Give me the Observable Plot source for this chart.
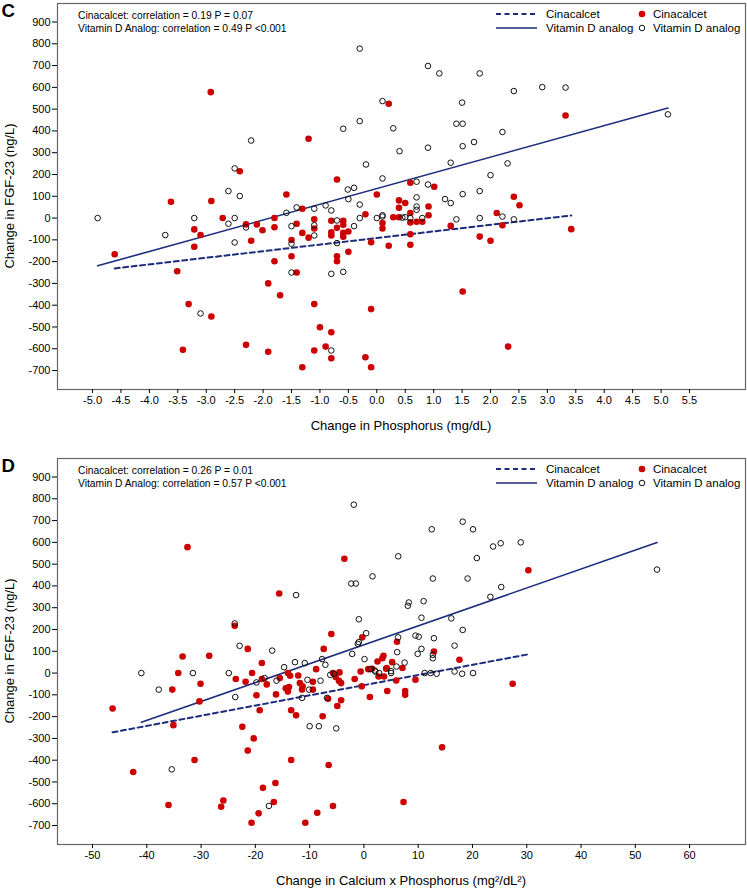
<!DOCTYPE html>
<html><head><meta charset="utf-8">
<script src="https://cdn.jsdelivr.net/npm/d3@7"></script>
<script src="https://cdn.jsdelivr.net/npm/@observablehq/plot@0.6"></script>
<style>
body{margin:0;background:#fff;}
#wrap{position:relative;width:747px;height:890px;overflow:hidden;}
.panel{position:absolute;left:0;}
</style></head><body><div id="wrap"></div>
<script>
// ---------- tick values ----------
const xTicksC = [-5.0,-4.5,-4.0,-3.5,-3.0,-2.5,-2.0,-1.5,-1.0,-0.5,0.0,0.5,1.0,1.5,2.0,2.5,3.0,3.5,4.0,4.5,5.0,5.5];
const xTicksD = [-50,-40,-30,-20,-10,0,10,20,30,40,50,60];
const yTicks = [-700,-600,-500,-400,-300,-200,-100,0,100,200,300,400,500,600,700,800,900];

// ---------- labels ----------
const seriesNames = ["Cinacalcet", "Vitamin D analog"];
const annC = ["Cinacalcet: correlation = 0.19 P = 0.07", "Vitamin D Analog: correlation = 0.49 P <0.001"];
const annD = ["Cinacalcet: correlation = 0.26 P = 0.01", "Vitamin D Analog: correlation = 0.57 P <0.001"];
const yTitle = "Change in FGF-23 (ng/L)";
const xTitleC = "Change in Phosphorus (mg/dL)";
const xTitleD = "Change in Calcium x Phosphorus (mg²/dL²)";

// ---------- Panel C: change in phosphorus vs change in FGF-23 ----------
const cinaC = [
[-4.61,-166],[-3.62,75],[-3.51,-244],[-3.41,-605],[-3.31,-395],[-3.21,-52],[-3.21,-132],[-3.10,-78],
[-2.92,578],[-2.91,78],[-2.91,-452],[-2.71,0],[-2.41,215],[-2.30,-29],[-2.30,-582],[-2.21,-104],
[-2.11,-29],[-2.01,-56],[-1.91,-300],[-1.91,-614],[-1.80,0],[-1.80,-42],[-1.80,-198],[-1.70,-354],
[-1.59,108],[-1.50,-101],[-1.50,-175],[-1.41,-26],[-1.41,-250],[-1.31,43],[-1.31,-68],[-1.31,-685],
[-1.20,364],[-1.20,-90],[-1.10,-6],[-1.10,-48],[-1.10,-395],[-1.10,-608],[-1.00,-501],[-0.90,-590],
[-0.80,-12],[-0.80,-65],[-0.80,-80],[-0.80,-524],[-0.80,-644],[-0.70,177],[-0.70,-45],[-0.70,-175],
[-0.70,-198],[-0.59,-12],[-0.59,-31],[-0.59,-68],[-0.59,-86],[-0.50,-62],[-0.50,-155],[-0.20,17],
[-0.20,-639],[-0.10,-111],[-0.10,-418],[-0.10,-685],[0.0,108],[0.10,-23],[0.10,-48],[0.21,525],
[0.21,-127],[0.29,4],[0.39,81],[0.39,47],[0.39,4],[0.50,69],[0.59,162],[0.59,23],[0.59,-20],
[0.59,-74],[0.59,-123],[0.70,-17],[0.80,-17],[0.91,53],[0.91,13],[1.01,144],[1.30,-36],[1.51,-337],
[1.81,-85],[2.00,-104],[2.11,23],[2.21,-33],[2.31,-590],[2.41,98],[2.51,59],[3.32,471],[3.42,-51]
];
const vitdC = [
[-4.91,0],[-3.72,-78],[-3.21,0],[-3.10,-438],[-2.61,124],[-2.61,-26],[-2.50,228],[-2.50,0],
[-2.50,-112],[-2.41,101],[-2.30,-43],[-2.21,356],[-1.59,24],[-1.50,-37],[-1.50,-118],[-1.50,-250],
[-1.41,49],[-1.10,43],[-1.10,-33],[-1.10,-80],[-0.90,58],[-0.80,35],[-0.80,-256],[-0.80,-608],
[-0.70,-11],[-0.70,-115],[-0.59,410],[-0.59,-247],[-0.51,131],[-0.50,87],[-0.40,139],[-0.40,-37],
[-0.30,778],[-0.30,445],[-0.30,62],[-0.30,0],[-0.19,246],[0.0,0],[0.10,537],[0.10,182],[0.10,13],
[0.10,7],[0.29,412],[0.40,307],[0.50,4],[0.45,2],[0.59,0],[0.70,167],[0.70,95],[0.70,53],[0.70,38],
[0.80,0],[0.90,698],[0.90,323],[0.90,154],[1.10,664],[1.20,87],[1.30,254],[1.30,69],[1.40,433],
[1.40,-6],[1.50,530],[1.51,433],[1.51,330],[1.51,110],[1.71,349],[1.81,664],[1.81,124],[1.81,0],
[2.00,197],[2.21,395],[2.21,7],[2.30,251],[2.41,583],[2.41,-6],[2.91,601],[3.32,599],[5.12,476]
];
const fitCinaC = [[-4.61,-231],[3.42,12]];
const fitVitdC = [[-4.91,-219],[5.12,505]];

// ---------- Panel D: change in calcium x phosphorus vs change in FGF-23 ----------
const cinaD = [
[-46.3,-163],[-42.5,-454],[-36.0,-606],[-35.3,-76],[-35.1,-239],[-34.2,0],[-33.4,76],[-32.5,578],
[-31.2,-399],[-30.3,-130],[-30.1,-49],[-28.5,79],[-26.3,-614],[-25.9,-585],[-23.8,217],[-23.6,-27],
[-22.4,-247],[-21.8,-40],[-21.4,111],[-21.4,-356],[-20.7,-687],[-20.6,0],[-20.3,-300],[-19.8,-102],
[-19.4,-644],[-19.2,-171],[-18.8,46],[-18.8,-27],[-18.6,-527],[-17.9,-52],[-16.6,-592],[-16.3,-505],
[-16.2,-98],[-15.6,365],[-15.5,-23],[-14.4,-70],[-14.0,0],[-14.0,-85],[-13.6,-12],[-13.4,-171],
[-13.4,-399],[-13.8,-64],[-12.5,-194],[-12.1,-11],[-11.8,-46],[-11.4,-76],[-11.3,-61],[-10.8,-687],
[-9.4,-76],[-9.4,-40],[-8.8,18],[-8.6,-641],[-7.6,-198],[-7.4,111],[-6.6,-118],[-6.5,-422],[-6.0,179],
[-5.7,-610],[-5.7,0],[-5.2,-18],[-4.9,-151],[-4.6,-35],[-4.5,3],[-4.2,-46],[-4.2,-125],[-3.6,525],
[-1.7,-27],[-0.6,7],[-0.4,-61],[-0.3,164],[0.8,18],[1.1,-110],[1.5,20],[2.5,53],[2.7,-16],[3.4,68],
[3.6,79],[3.7,-16],[4.1,20],[4.2,23],[4.3,-82],[5.2,50],[5.95,-34],[6.1,144],[7.1,23],[7.6,-82],
[7.6,-100],[7.3,-592],[9.5,-31],[12.9,99],[14.4,-341],[17.6,61],[27.4,-49],[30.3,472]
];
const vitdD = [
[-41.0,0],[-37.8,-76],[-35.4,-442],[-31.5,0],[-24.9,0],[-23.8,228],[-23.7,-110],[-22.9,125],
[-19.8,-43],[-18.3,-23],[-17.5,-610],[-16.9,103],[-16.1,-35],[-14.7,27],[-12.5,358],[-12.7,50],
[-11.4,-114],[-10.9,46],[-10.4,-31],[-10.1,-76],[-10.0,-244],[-8.3,-244],[-8.0,-35],[-7.7,64],
[-7.1,38],[-6.8,-114],[-6.2,-8],[-5.5,-3],[-5.1,-254],[-2.34,411],[-1.49,411],[-1.86,773],[-2.16,88],
[-1.12,134],[-0.94,142],[-0.94,247],[0.11,64],[0.42,183],[1.2,18],[1.58,444],[2.0,12],[2.1,7],
[2.8,0],[5.0,0],[5.0,9],[6.0,30],[6.13,96],[6.3,164],[6.32,536],[7.5,48],[8.09,309],[8.27,324],
[9.5,172],[9.9,88],[10.1,167],[10.6,111],[10.6,254],[11.0,330],[11.2,0],[12.3,0],[12.5,660],
[12.7,434],[12.7,84],[12.7,68],[12.9,160],[13.4,-3],[16.1,251],[16.7,126],[16.7,7],[18.1,-3],
[18.2,695],[18.2,198],[19.1,434],[20.1,660],[20.1,0],[20.8,528],[23.3,350],[23.8,581],[25.2,596],
[25.3,395],[28.9,600],[54.0,475]
];
const fitCinaD = [[-46.3,-272],[30.3,86]];
const fitVitdD = [[-41.0,-226],[54.0,599]];

// ---------- styling ----------
const NAVY = "#1b2d7c";
const RED = "#cc0000";
const FONT = "'Liberation Sans', Arial, sans-serif";
const NARROW = "'Liberation Sans Narrow', 'Arial Narrow', 'Liberation Sans', sans-serif";

function panel({top, height, xDomain, xTicks, xFmt, cina, vitd, fitCina, fitVitd, letter, ann, xTitle}) {
  const mTop = 3, frameH = 386;
  const chart = Plot.plot({
    width: 747, height,
    marginLeft: 57, marginRight: 2, marginTop: mTop, marginBottom: height - mTop - frameH,
    style: {fontFamily: FONT, fontSize: "11px", background: "white", color: "black"},
    x: {type: "linear", domain: xDomain},
    y: {type: "linear", domain: [-787, 985]},
    marks: [
      Plot.frame({stroke: "#666", strokeWidth: 1.2}),
      Plot.axisY(yTicks, {tickSize: 5, tickPadding: 2, tickFormat: d => String(d), label: null, fontSize: 11}),
      Plot.axisX(xTicks, {tickSize: 4, tickPadding: 3, tickFormat: xFmt, label: null, fontSize: 11, fontFamily: NARROW}),
      Plot.line(fitVitd, {x: d => d[0], y: d => d[1], stroke: NAVY, strokeWidth: 1.6}),
      Plot.line(fitCina, {x: d => d[0], y: d => d[1], stroke: NAVY, strokeWidth: 2, strokeDasharray: "5,3.5"}),
      Plot.dot(cina, {x: d => d[0], y: d => d[1], r: 3.3, fill: RED, stroke: "none"}),
      Plot.dot(vitd, {x: d => d[0], y: d => d[1], r: 2.8, fill: "none", stroke: "#111", strokeWidth: 1})
    ]
  });
  const svg = d3.select(chart);
  const g = svg.append("g").attr("text-anchor", "start").attr("font-family", FONT).attr("fill", "black");
  // panel letter
  g.append("text").attr("x", 1.5).attr("y", 16.7)
    .attr("font-weight", "bold").attr("font-size", 18.6).text(letter);
  // correlation annotations
  ann.forEach((t, i) => g.append("text").attr("x", 78).attr("y", 19.3 + i * 13)
    .attr("font-family", NARROW).attr("font-size", 10.3).text(t));
  // legend
  const lg = g.append("g").attr("font-size", 11.5);
  lg.append("line").attr("x1", 496).attr("x2", 537).attr("y1", 14).attr("y2", 14)
    .attr("stroke", NAVY).attr("stroke-width", 2).attr("stroke-dasharray", "5,3.5");
  lg.append("line").attr("x1", 496).attr("x2", 537).attr("y1", 28).attr("y2", 28)
    .attr("stroke", NAVY).attr("stroke-width", 1.6);
  lg.append("text").attr("x", 546).attr("y", 18).text(seriesNames[0]);
  lg.append("text").attr("x", 546).attr("y", 32).text(seriesNames[1]);
  lg.append("circle").attr("cx", 642).attr("cy", 14).attr("r", 3.3).attr("fill", RED);
  lg.append("circle").attr("cx", 642).attr("cy", 28).attr("r", 2.8).attr("fill", "none").attr("stroke", "#111");
  lg.append("text").attr("x", 653).attr("y", 18).text(seriesNames[0]);
  lg.append("text").attr("x", 653).attr("y", 32).text(seriesNames[1]);
  // axis titles
  g.append("text").attr("x", 57 + 688 / 2).attr("y", mTop + frameH + 40.5).attr("text-anchor", "middle")
    .attr("font-size", 13).text(xTitle);
  g.append("text").attr("transform", `translate(14,${mTop + frameH / 2}) rotate(-90)`)
    .attr("text-anchor", "middle").attr("font-size", 13).text(yTitle);
  const div = document.createElement("div");
  div.className = "panel";
  div.style.top = top + "px";
  div.appendChild(chart);
  document.getElementById("wrap").appendChild(div);
}

panel({top: 0, height: 455, xDomain: [-5.616, 6.485], xTicks: xTicksC, xFmt: d => d.toFixed(1),
  cina: cinaC, vitd: vitdC, fitCina: fitCinaC, fitVitd: fitVitdC, letter: "C", ann: annC, xTitle: xTitleC});
panel({top: 455, height: 435, xDomain: [-56.45, 70.3], xTicks: xTicksD, xFmt: d => String(d),
  cina: cinaD, vitd: vitdD, fitCina: fitCinaD, fitVitd: fitVitdD, letter: "D", ann: annD, xTitle: xTitleD});
</script></body></html>
